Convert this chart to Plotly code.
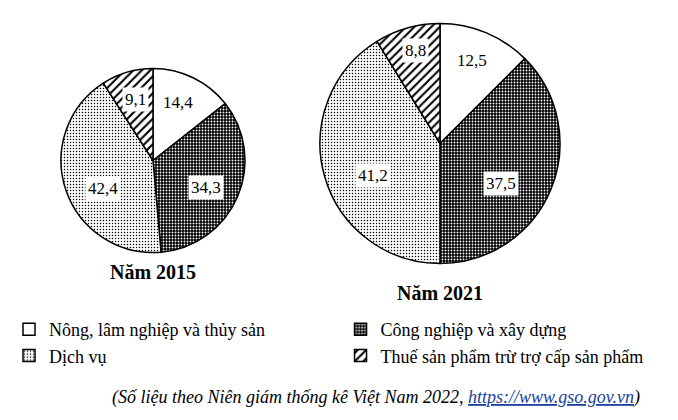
import numpy as np
import plotly.graph_objects as go

# ---- data ----
categories = ["Nông, lâm nghiệp và thủy sản", "Công nghiệp và xây dựng",
              "Dịch vụ", "Thuế sản phẩm trừ trợ cấp sản phẩm"]
values_2015 = [14.4, 34.3, 42.4, 9.1]
values_2021 = [12.5, 37.5, 41.2, 8.8]
years = ["Năm 2015", "Năm 2021"]

# ---- style / layout ----
W, H = 678, 420
FONT = "Times New Roman, Liberation Serif, serif"
pies = [
    dict(vals=values_2015, cx=153, cy=160.5, r=92, title_y=272,
         lab_r=[0.69, 0.65, 0.62, 0.69], lab_da=[-3, 4, -10, 0]),
    dict(vals=values_2021, cx=440, cy=143.5, r=120, title_y=293,
         lab_r=[0.74, 0.61, 0.62, 0.80], lab_da=[-1.5, 10.5, -9.5, 1]),
]
pattern = dict(
    shape=["", ".", ".", "/"],
    fgcolor=["white", "white", "black", "black"],
    bgcolor=["white", "black", "white", "white"],
    size=[4, 3, 3, 6],
    solidity=[0.1, 0.3, 0.2, 0.35],
)

fig = go.Figure()
annotations = []
for i, p in enumerate(pies):
    x0, x1 = (p["cx"] - p["r"]) / W, (p["cx"] + p["r"]) / W
    y0, y1 = 1 - (p["cy"] + p["r"]) / H, 1 - (p["cy"] - p["r"]) / H
    fig.add_trace(go.Pie(
        labels=categories, values=p["vals"], sort=False, direction="clockwise",
        rotation=0, textposition="none", showlegend=(i == 0),
        marker=dict(colors=["white"] * 4, line=dict(color="black", width=1.5),
                    pattern=pattern),
        domain=dict(x=[x0, x1], y=[y0, y1]), hoverinfo="label+value",
    ))
    tot = sum(p["vals"])
    cum = np.cumsum([0] + p["vals"])
    for k, v in enumerate(p["vals"]):
        mid = (cum[k] + v / 2) / tot * 2 * np.pi + np.radians(p["lab_da"][k])
        rr = p["lab_r"][k] * p["r"]
        px = p["cx"] + rr * np.sin(mid)
        py = p["cy"] - rr * np.cos(mid)
        annotations.append(dict(
            x=px / W, y=1 - py / H, xref="paper", yref="paper", showarrow=False,
            xanchor="center", yanchor="middle",
            text=f"{v:.1f}".replace(".", ","), font=dict(family=FONT, size=17, color="black"),
            bgcolor="white", borderpad=2,
        ))
    annotations.append(dict(
        x=p["cx"] / W, y=1 - p["title_y"] / H, xref="paper", yref="paper", showarrow=False,
        xanchor="center", yanchor="middle",
        text=f"<b>{years[i]}</b>", font=dict(family=FONT, size=20, color="black"),
    ))

annotations.append(dict(
    x=376 / W, y=1 - 397 / H, xref="paper", yref="paper", showarrow=False,
    xanchor="center", yanchor="middle",
    text="<i>(Số liệu theo Niên giám thống kê Việt Nam 2022, "
         "<span style='color:#1a3fa0'><u>https://www.gso.gov.vn</u></span>)</i>",
    font=dict(family=FONT, size=18, color="black"),
))

fig.update_layout(
    width=W, height=H, margin=dict(l=0, r=0, t=0, b=0),
    paper_bgcolor="white", plot_bgcolor="white",
    font=dict(family=FONT, size=18, color="black"),
    legend=dict(orientation="h", x=0.017, y=1 - 311 / H, xanchor="left", yanchor="top",
                entrywidth=0.489, entrywidthmode="fraction", itemwidth=30,
                font=dict(family=FONT, size=18, color="black"), traceorder="normal"),
    annotations=annotations,
)
fig.write_html("out.html", config={"displayModeBar": False},
               post_script="document.body.style.margin='0';")
